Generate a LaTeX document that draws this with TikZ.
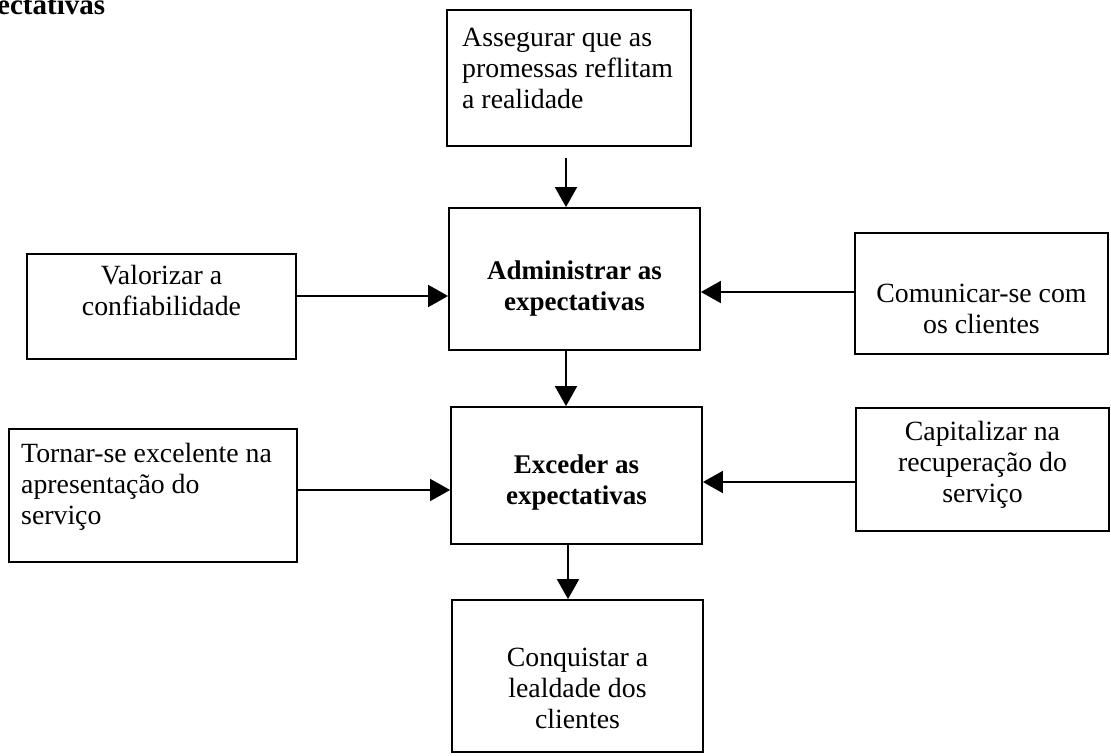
\documentclass[tikz,border=0pt]{standalone}
\usepackage{fontspec}
\setmainfont{Liberation Serif}
\usetikzlibrary{arrows.meta}
\begin{document}
\begin{tikzpicture}[x=1pt,y=-1pt,
  box/.style={draw,line width=1.8pt,inner sep=0pt},
  txt/.style={inner sep=0pt,font=\fontsize{27.8}{31}\selectfont},
  btxt/.style={inner sep=0pt,font=\fontsize{27}{31}\selectfont\bfseries,align=center},
  arr/.style={line width=1.8pt,-{Triangle[width=22pt,length=20pt]}}]
\fill[white] (0,0) rectangle (1111,755);
\useasboundingbox (0,0) rectangle (1111,755);

% heading (partly outside the page)
\node[anchor=base west,inner sep=0pt,font=\fontsize{29}{31}\selectfont\bfseries] (title) at (-3,14) {ectativas};

% boxes
\node[box,minimum width=244pt,minimum height=136pt] (top) at (569,78) {};
\node[box,minimum width=251pt,minimum height=142pt] (adm) at (574.5,279) {};
\node[box,minimum width=269pt,minimum height=105pt] (val) at (161.5,306.5) {};
\node[box,minimum width=253pt,minimum height=121pt] (com) at (981.5,293.5) {};
\node[box,minimum width=288pt,minimum height=133pt] (tor) at (153,495.5) {};
\node[box,minimum width=251pt,minimum height=137pt] (exc) at (576.5,475.5) {};
\node[box,minimum width=253pt,minimum height=123pt] (cap) at (982.5,469.5) {};
\node[box,minimum width=251pt,minimum height=152pt] (con) at (577.5,676) {};

% texts (base anchor = baseline of the last line)
\node[txt,anchor=base west,align=left] (ttop) at (462,108) {Assegurar que as\\promessas reflitam\\a realidade};
\node[btxt,anchor=base] (tadm) at (574.5,310) {Administrar as\\expectativas};
\node[txt,anchor=base,align=center] (tval) at (161.5,315) {Valorizar a\\confiabilidade};
\node[txt,anchor=base,align=center] (tcom) at (981.5,333) {Comunicar-se com\\os clientes};
\node[txt,anchor=base west,align=left] (ttor) at (21,524) {Tornar-se excelente na\\apresentação do\\serviço};
\node[btxt,anchor=base] (texc) at (576.5,504) {Exceder as\\expectativas};
\node[txt,anchor=base,align=center] (tcap) at (982.5,502) {Capitalizar na\\recuperação do\\serviço};
\node[txt,anchor=base,align=center] (tcon) at (577.5,728) {Conquistar a\\lealdade dos\\clientes};

% connectors
\draw[arr,shorten <=11pt] ([xshift=-3pt]top.south) -- ([xshift=-8.5pt]adm.north);
\draw[arr] ([yshift=10.5pt]val.east) -- ([yshift=-17pt]adm.west);
\draw[arr] ([yshift=1.5pt]com.west) -- ([yshift=-13pt]adm.east);
\draw[arr] ([xshift=-8.5pt]adm.south) -- ([xshift=-10.5pt]exc.north);
\draw[arr] ([yshift=5.5pt]tor.east) -- ([yshift=-14.5pt]exc.west);
\draw[arr] ([yshift=-12.5pt]cap.west) -- ([yshift=-6.5pt]exc.east);
\draw[arr] ([xshift=-8.5pt]exc.south) -- ([xshift=-9.5pt]con.north);
\end{tikzpicture}
\end{document}
